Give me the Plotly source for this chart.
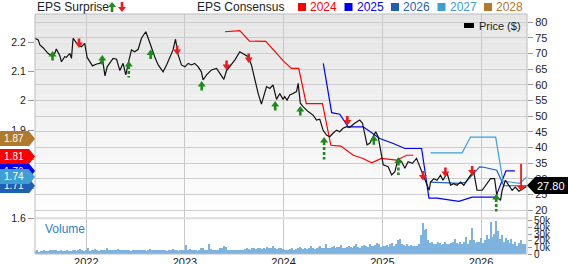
import plotly.graph_objects as go
import pandas as pd

# ------------------------------------------------------------------ data
price_dates = [
    "2021-06-25", "2021-07-07", "2021-07-13", "2021-07-25", "2021-08-12", "2021-08-25", "2021-09-06",
    "2021-09-12", "2021-09-25", "2021-10-01", "2021-10-13", "2021-10-19", "2021-11-01", "2021-11-07",
    "2021-11-13", "2021-11-23", "2021-12-01", "2021-12-14", "2021-12-26", "2022-01-04", "2022-01-14",
    "2022-01-24", "2022-02-08", "2022-02-20", "2022-03-02", "2022-03-11", "2022-03-19", "2022-03-29",
    "2022-04-10", "2022-04-23", "2022-05-05", "2022-05-17", "2022-05-27", "2022-06-05", "2022-06-17",
    "2022-06-29", "2022-07-12", "2022-07-24", "2022-08-09", "2022-08-18", "2022-08-30", "2022-09-11",
    "2022-09-24", "2022-10-12", "2022-10-25", "2022-11-06", "2022-11-18", "2022-11-27", "2022-12-07",
    "2022-12-19", "2023-01-01", "2023-01-13", "2023-01-25", "2023-02-06", "2023-02-19", "2023-03-03",
    "2023-03-09", "2023-03-22", "2023-04-09", "2023-04-28", "2023-05-16", "2023-05-25", "2023-06-04",
    "2023-06-16", "2023-07-05", "2023-07-23", "2023-08-11", "2023-08-23", "2023-09-04", "2023-09-17",
    "2023-09-29", "2023-10-11", "2023-10-24", "2023-10-30", "2023-11-11", "2023-11-23", "2023-12-06",
    "2023-12-18", "2023-12-30", "2024-01-05", "2024-01-14", "2024-01-24", "2024-02-05", "2024-02-18",
    "2024-02-24", "2024-03-03", "2024-03-13", "2024-04-01", "2024-04-19", "2024-05-02", "2024-05-14",
    "2024-05-26", "2024-06-08", "2024-06-20", "2024-07-02", "2024-07-15", "2024-07-27", "2024-08-08",
    "2024-08-21", "2024-09-02", "2024-09-20", "2024-10-09", "2024-10-19", "2024-10-27", "2024-11-05",
    "2024-11-15", "2024-11-27", "2024-12-07", "2024-12-16", "2024-12-22", "2024-12-28", "2025-01-04",
    "2025-01-22", "2025-02-04", "2025-02-16", "2025-02-28", "2025-03-13", "2025-03-25", "2025-04-06",
    "2025-04-22", "2025-05-07", "2025-05-19", "2025-06-01", "2025-06-13", "2025-06-23", "2025-06-28",
    "2025-07-10", "2025-07-22", "2025-08-04", "2025-08-13", "2025-08-28", "2025-09-10", "2025-09-22",
    "2025-10-04", "2025-10-17", "2025-10-29", "2025-11-10", "2025-11-23", "2025-12-05", "2025-12-17",
    "2026-01-05", "2026-01-17", "2026-02-05", "2026-02-20", "2026-03-01", "2026-03-14", "2026-03-20",
    "2026-04-01", "2026-04-14", "2026-04-26", "2026-05-08", "2026-05-21", "2026-06-02", "2026-06-15",
    "2026-06-19",
]
price_vals = [
    74.8, 74.3, 72.7, 71.8, 70.0, 69.2, 70.0, 71.4, 69.2, 67.3, 68.9, 68.7, 70.0, 68.4,
    74.8, 73.7, 72.7, 72.1, 73.2, 68.7, 67.3, 66.0, 66.6, 66.8, 68.1, 62.8, 65.7, 67.0,
    68.4, 68.1, 64.5, 66.8, 63.1, 66.8, 71.1, 70.5, 71.3, 74.8, 76.9, 74.8, 71.6, 68.9,
    66.3, 64.1, 66.3, 68.9, 71.1, 74.5, 69.5, 66.3, 65.7, 66.8, 66.3, 66.8, 65.7, 64.1,
    61.5, 63.1, 64.7, 65.2, 63.1, 61.7, 64.5, 65.7, 67.9, 70.5, 69.5, 68.9, 66.3, 61.5,
    57.2, 53.8, 57.8, 59.4, 58.8, 59.9, 55.3, 57.2, 55.3, 56.2, 55.1, 56.7, 57.2, 57.8,
    60.4, 54.1, 53.0, 51.4, 50.3, 48.7, 49.0, 45.5, 43.9, 43.4, 44.5, 45.5, 45.0, 46.1,
    46.6, 46.4, 47.7, 48.7, 47.7, 44.5, 40.8, 41.3, 43.4, 45.0, 43.4, 40.2, 37.6, 34.4,
    33.8, 31.2, 32.2, 36.5, 35.4, 33.3, 35.4, 34.9, 36.5, 33.8, 30.6, 28.5, 26.3, 28.9,
    30.0, 29.5, 31.1, 29.5, 31.8, 27.9, 28.4, 27.9, 28.9, 27.9, 29.5, 31.1, 32.1, 26.3,
    26.3, 27.9, 30.0, 30.0, 24.2, 23.1, 26.3, 29.5, 27.9, 26.3, 27.3, 26.0, 26.6, 27.3,
    27.8,
]
last_price = 27.80

cons_2024_dates = ["2023-05-29", "2023-07-23", "2023-08-28", "2023-10-27", "2024-01-01", "2024-01-30",
                   "2024-02-26", "2024-03-25", "2024-05-24", "2024-06-24", "2024-07-31", "2024-09-15",
                   "2024-10-21", "2024-11-22", "2024-12-28", "2025-02-22", "2025-04-01", "2025-04-25"]
cons_2024 = [2.235, 2.239, 2.203, 2.202, 2.135, 2.110, 2.110, 1.990, 1.990, 1.848, 1.845, 1.814,
             1.803, 1.788, 1.803, 1.797, 1.814, 1.814]

cons_2025_dates = ["2024-05-27", "2024-06-27", "2024-07-27", "2024-08-27", "2024-10-22", "2024-12-22",
                   "2025-02-10", "2025-03-25", "2025-05-26", "2025-06-22", "2025-07-22", "2025-10-11",
                   "2025-11-29", "2026-02-24", "2026-04-03", "2026-05-06"]
cons_2025 = [2.127, 1.959, 1.954, 1.911, 1.911, 1.871, 1.854, 1.837, 1.837, 1.668, 1.668, 1.657,
             1.671, 1.671, 1.761, 1.761]

cons_2026_dates = ["2025-06-27", "2025-10-15", "2025-11-05", "2025-12-27", "2026-01-11", "2026-02-28",
                   "2026-03-26", "2026-06-19"]
cons_2026 = [1.722, 1.718, 1.722, 1.774, 1.773, 1.763, 1.71, 1.71]

cons_2027_dates = ["2025-06-28", "2025-10-23", "2025-11-23", "2026-02-24", "2026-03-23", "2026-05-24",
                   "2026-06-19"]
cons_2027 = [1.822, 1.822, 1.876, 1.876, 1.726, 1.718, 1.74]

# current consensus per fiscal year (labels on the left axis), in drawing order
label_years = ["2028", "2024", "2025", "2026", "2027"]
label_vals = [1.87, 1.81, 1.76, 1.71, 1.74]

# EPS surprises: date, price level of arrow, direction, kind (n=normal, d=dashed big, l=long)
surprise_dates = ["2021-08-29", "2021-12-05", "2022-03-01", "2022-06-07", "2022-08-27", "2022-12-03",
                  "2023-03-04", "2023-06-04", "2023-08-25", "2023-12-01", "2024-03-03", "2024-05-30",
                  "2024-08-24", "2024-11-30", "2025-03-01", "2025-05-31", "2025-08-22", "2025-11-29",
                  "2026-02-26", "2026-05-29"]
surprise_price = [69.6, 72.8, 68.35, 66.4, 70.1, 70.6, 60.05, 65.8, 68.0, 53.7, 52.1, 42.2,
                  48.1, 42.7, 35.6, 30.5, 31.65, 32.1, 24.0, 27.1]
surprise_dir = ["up", "down", "up", "up", "up", "down", "up", "down", "down", "up", "up", "up",
                "down", "up", "up", "down", "down", "down", "up", "down"]
surprise_kind = ["n", "n", "n", "d", "n", "n", "n", "n", "n", "n", "n", "d",
                 "n", "n", "d", "n", "n", "n", "d", "l"]
surprise_stem = [0, 0, 0, 11, 0, 0, 0, 0, 0, 0, 0, 17, 0, 0, 12, 0, 0, 0, 12, 22]

volume_start = "2021-06-25"
volume_k = [
    # 2021
    4, 5, 3, 4, 4, 5, 4, 4, 5, 6, 6, 5, 4, 4, 5, 4, 4, 5, 4, 4, 6, 5, 4, 5, 7, 5, 4,
    # 2022
    5, 8, 4, 6, 5, 7, 5, 4, 6, 5, 6, 8, 5, 6, 6, 5, 5, 7, 6, 5, 5, 6, 5, 5, 4, 6,
    5, 5, 6, 5, 6, 5, 4, 5, 7, 6, 5, 5, 6, 5, 5, 6, 5, 4, 5, 5, 7, 6, 5, 4, 5, 6,
    # 2023
    6, 13, 5, 7, 5, 6, 5, 4, 5, 9, 8, 6, 5, 14, 7, 6, 5, 5, 6, 8, 9, 11, 10, 6, 5, 6,
    5, 5, 6, 5, 5, 6, 7, 8, 7, 6, 8, 8, 7, 8, 9, 7, 8, 7, 10, 8, 9, 12, 8, 7, 9, 8,
    # 2024
    7, 6, 6, 5, 7, 8, 6, 7, 9, 10, 8, 7, 8, 7, 9, 12, 8, 7, 8, 10, 11, 9, 8, 14, 9, 8,
    10, 11, 9, 10, 10, 13, 9, 8, 10, 12, 10, 9, 11, 15, 10, 9, 11, 13, 12, 10, 14, 12, 11, 13, 16, 14,
    # 2025
    10, 12, 11, 13, 10, 14, 16, 12, 14, 20, 23, 15, 13, 12, 14, 11, 13, 12, 11, 12, 14, 28, 47, 36, 38, 20,
    16, 18, 15, 14, 17, 16, 13, 14, 17, 15, 14, 16, 18, 22, 16, 14, 17, 15, 18, 26, 14, 21, 39, 20, 16, 18,
    # 2026
    18, 24, 16, 20, 28, 22, 48, 26, 30, 50, 34, 22, 28, 18, 24, 20, 16, 22, 14, 18, 12, 16, 20, 14, 15,
]

eps_ticks = [1.6, 1.7, 1.8, 1.9, 2.0, 2.1, 2.2]
eps_ticktext = ["1.6", "1.7", "1.8", "1.9", "2", "2.1", "2.2"]
vol_ticks = [0, 10, 20, 30, 40, 50]
vol_ticktext = ["0", "10k", "20k", "30k", "40k", "50k"]
legend_years = ["2024", "2025", "2026", "2027", "2028"]

# ------------------------------------------------------------------ style
FONT = "Liberation Sans, Arial, sans-serif"
YEAR_COL = {"2024": "#ff0000", "2025": "#0000ff", "2026": "#1f5fb4", "2027": "#3d9fd3", "2028": "#b07a2c"}
GREEN = "#1a8c1a"
RED = "#f01a1a"
W, H = 568, 264
PL, PR, PT, PB = 35, 527, 14, 254


def px(x):
    return (x - PL) / (PR - PL)


def py(y):
    return (PB - y) / (PB - PT)


PRICE_DOM = [py(218), 1]
VOL_DOM = [0, py(219.2)]

fig = go.Figure()

# consensus lines (EPS axis y)
for yr, d, v in [("2024", cons_2024_dates, cons_2024), ("2025", cons_2025_dates, cons_2025),
                 ("2026", cons_2026_dates, cons_2026), ("2027", cons_2027_dates, cons_2027)]:
    fig.add_trace(go.Scatter(x=d, y=v, mode="lines", line=dict(color=YEAR_COL[yr], width=1.2),
                             xaxis="x", yaxis="y", showlegend=False, hoverinfo="skip"))

# price (overlay axis y2)
fig.add_trace(go.Scatter(x=price_dates, y=price_vals, mode="lines", line=dict(color="#111111", width=1.2),
                         xaxis="x", yaxis="y2", showlegend=False))

# volume
vol_dates = pd.date_range(volume_start, periods=len(volume_k), freq="7D")
fig.add_trace(go.Bar(x=vol_dates, y=volume_k, marker=dict(color="#7fb3df", line=dict(width=0)),
                     width=5 * 86400000, xaxis="x", yaxis="y3", showlegend=False))

shapes = []
# price panel gradient background
N = 30
for i in range(N):
    t = i / (N - 1)
    c = int(round(229 + (254 - 229) * t))
    y_top = PRICE_DOM[1] - (PRICE_DOM[1] - PRICE_DOM[0]) * i / N
    y_bot = PRICE_DOM[1] - (PRICE_DOM[1] - PRICE_DOM[0]) * (i + 1) / N
    shapes.append(dict(type="rect", xref="paper", yref="paper", x0=0, x1=1, y0=y_bot, y1=y_top,
                       fillcolor=f"rgb({c},{c},{c})", line=dict(width=0), layer="below"))
# separator between price and volume
shapes.append(dict(type="line", xref="paper", yref="paper", x0=0, x1=1, y0=py(218.3), y1=py(218.3),
                   line=dict(color="#dedede", width=2), layer="above"))
# frame
shapes.append(dict(type="rect", xref="paper", yref="paper", x0=0, x1=1, y0=0, y1=1,
                   line=dict(color="#bcbcbc", width=1), fillcolor="rgba(0,0,0,0)", layer="above"))


def anchored(xref, yref, xa, ya, path, color):
    return dict(type="path", xref=xref, yref=yref, xsizemode="pixel", ysizemode="pixel",
                xanchor=xa, yanchor=ya, path=path, fillcolor=color, line=dict(width=0), layer="above")


UP_FULL = "M -4,-2 L 0,3.5 L 4,-2 L 1.3,-2 L 1.3,-6 L -1.3,-6 L -1.3,-2 Z"
UP_HEAD = "M -4,-2 L 0,3.5 L 4,-2 Z"
DN_FULL = "M -4,2 L 0,-3.5 L 4,2 L 1.3,2 L 1.3,6 L -1.3,6 L -1.3,2 Z"
DN_HEAD = "M -4,2 L 0,-3.5 L 4,2 Z"

for d, p, dr, k, s in zip(surprise_dates, surprise_price, surprise_dir, surprise_kind, surprise_stem):
    col = GREEN if dr == "up" else RED
    if k == "n":
        shapes.append(anchored("x", "y2", d, p, UP_FULL if dr == "up" else DN_FULL, col))
    else:
        sign = -1 if dr == "up" else 1
        dash = "3px,2px" if k == "d" else "solid"
        wid = 2.6 if k == "d" else 1.8
        shapes.append(dict(type="line", xref="x", yref="y2", xsizemode="pixel", ysizemode="pixel",
                           xanchor=d, yanchor=p, x0=0, x1=0, y0=sign * 1.5, y1=sign * (2 + s),
                           line=dict(color=col, width=wid, dash=dash), layer="above"))
        shapes.append(anchored("x", "y2", d, p, UP_HEAD if dr == "up" else DN_HEAD, col))

# left consensus labels: pointed tip (shape) + filled text box (annotation, drawn in order)
TIP = "M -7,7.5 L -6,7.5 L 0,0 L -6,-7.5 L -7,-7.5 Z"
annotations = []
for yr, v in zip(label_years, label_vals):
    shapes.append(anchored("paper", "y", 0, v, TIP, YEAR_COL[yr]))
    annotations.append(dict(xref="paper", yref="y", x=0, y=v, xshift=-6, xanchor="right",
                            yanchor="middle", text=f"{v:.2f}", showarrow=False, width=30, height=15,
                            bgcolor=YEAR_COL[yr], borderpad=0, borderwidth=0, align="center",
                            font=dict(family=FONT, size=10, color="white")))

# right last-price label
shapes.append(anchored("paper", "y2", 1, last_price, "M 0,0 L 8,8.5 L 41,8.5 L 41,-8.5 L 8,-8.5 Z", "#000000"))
annotations.append(dict(xref="paper", yref="y2", x=1, y=last_price, xshift=24, xanchor="center",
                        yanchor="middle", text=f"{last_price:.2f}", showarrow=False,
                        font=dict(family=FONT, size=11, color="white")))

# top legend
TOPY = py(7)
annotations.append(dict(xref="paper", yref="paper", x=px(35), y=TOPY, xanchor="left", yanchor="middle",
                        text="EPS Surprise", showarrow=False, font=dict(family=FONT, size=12, color="#222")))
shapes.append(anchored("paper", "paper", px(112), TOPY, "M -4,0 L 0,5 L 4,0 L 1.3,0 L 1.3,-5 L -1.3,-5 L -1.3,0 Z", GREEN))
shapes.append(anchored("paper", "paper", px(122), TOPY, "M -4,0 L 0,-5 L 4,0 L 1.3,0 L 1.3,5 L -1.3,5 L -1.3,0 Z", RED))
annotations.append(dict(xref="paper", yref="paper", x=px(195), y=TOPY, xanchor="left", yanchor="middle",
                        text="EPS Consensus", showarrow=False, font=dict(family=FONT, size=12, color="#222")))
for i, yr in enumerate(legend_years):
    x0 = 298 + 46.5 * i
    shapes.append(anchored("paper", "paper", px(x0), TOPY, "M 0,4 L 8,4 L 8,-4 L 0,-4 Z", YEAR_COL[yr]))
    annotations.append(dict(xref="paper", yref="paper", x=px(x0 + 10), y=TOPY, xanchor="left",
                            yanchor="middle", text=yr, showarrow=False,
                            font=dict(family=FONT, size=12, color=YEAR_COL[yr])))

# price legend inside plot
shapes.append(anchored("paper", "paper", px(464), py(25.5), "M 0,2.5 L 10,2.5 L 10,-2.5 L 0,-2.5 Z", "#000000"))
annotations.append(dict(xref="paper", yref="paper", x=px(477), y=py(26), xanchor="left", yanchor="middle",
                        text="Price ($)", showarrow=False, font=dict(family=FONT, size=11, color="#222")))
# volume caption
annotations.append(dict(xref="paper", yref="paper", x=px(43), y=py(229), xanchor="left", yanchor="middle",
                        text="Volume", showarrow=False, font=dict(family=FONT, size=12, color="#2f7fc1")))

fig.update_layout(
    width=W, height=H, margin=dict(l=PL, r=W - PR, t=PT, b=H - PB, autoexpand=False),
    paper_bgcolor="white", plot_bgcolor="rgba(0,0,0,0)",
    font=dict(family=FONT, size=11, color="#222"),
    showlegend=False, bargap=0,
    xaxis=dict(type="date", range=["2021-06-25", "2026-06-20"], anchor="y3", showgrid=True,
               gridcolor="#c8c8c8", gridwidth=1, dtick="M12", tick0="2022-01-01", tickformat="%Y",
               ticks="", showline=False, zeroline=False, automargin=False,
               tickfont=dict(size=11, color="#222")),
    yaxis=dict(domain=PRICE_DOM, range=[1.6, 2.2955], side="left", anchor="x", tickvals=eps_ticks,
               ticktext=eps_ticktext, showgrid=False, zeroline=False, ticks="outside", ticklen=6,
               tickcolor="#999", showline=False, automargin=False, tickfont=dict(size=10.5, color="#222")),
    yaxis2=dict(overlaying="y", side="right", anchor="x", range=[17.447, 82.553], dtick=5, tick0=0,
                showgrid=True, gridcolor="#cdcdcd", zeroline=False, ticks="outside", ticklen=5,
                tickcolor="#999", showline=False, automargin=False, tickfont=dict(size=11, color="#222")),
    yaxis3=dict(domain=VOL_DOM, side="right", anchor="x", range=[0, 52.3], tickvals=vol_ticks,
                ticktext=vol_ticktext, showgrid=False, zeroline=False, ticks="outside", ticklen=4,
                tickcolor="#999", showline=False, automargin=False, tickfont=dict(size=10, color="#222")),
    shapes=shapes, annotations=annotations,
)

fig.write_html("out.html")
